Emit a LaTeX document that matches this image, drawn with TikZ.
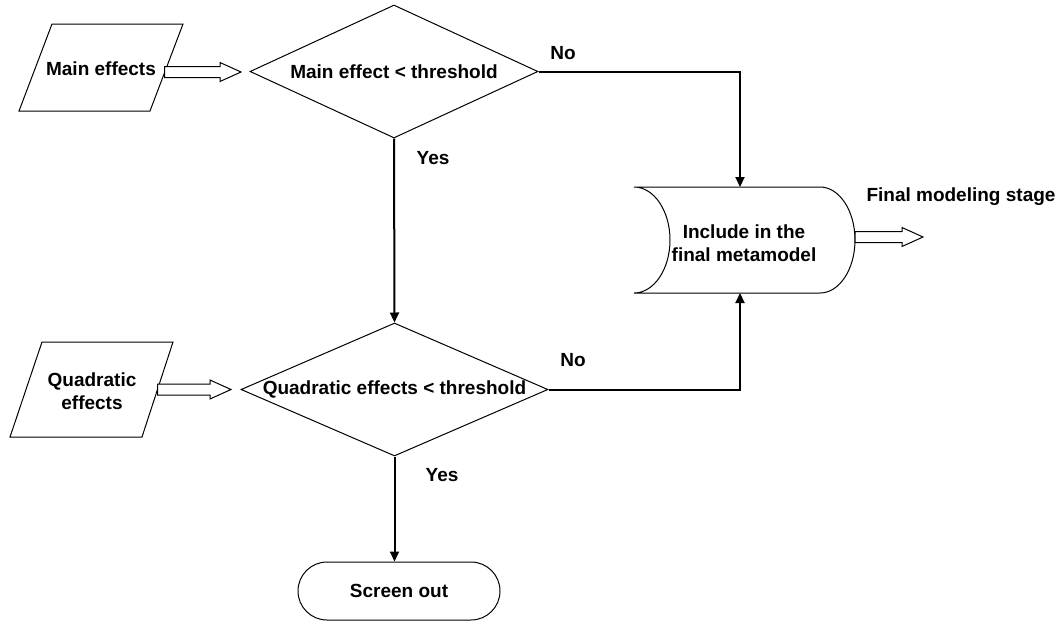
\documentclass[tikz,border=0pt]{standalone}
\usepackage{fontspec}
\setmainfont{Liberation Sans}
\usetikzlibrary{shapes.geometric,arrows.meta,calc}

% Horizontal block arrow drawn as an outlined polygon: #1 tail, #2 tip
\newcommand\blockarrow[2]{%
  \draw[outline] ($(#1)+(0,-5.5)$) -- ($(#2)+(-21,-5.5)$) -- ($(#2)+(-21,-9.5)$)
    -- (#2) -- ($(#2)+(-21,9.5)$) -- ($(#2)+(-21,5.5)$) -- ($(#1)+(0,5.5)$) -- cycle;}

\begin{document}
\begin{tikzpicture}[x=1pt,y=-1pt,
  every node/.style={font=\fontsize{19}{23}\selectfont\bfseries, inner sep=0pt},
  outline/.style={draw=black, line width=1pt, fill=white, line join=miter},
  decision/.style={diamond, aspect=2.3, outline, minimum width=#1, minimum height=133pt},
  flow/.style={line width=2pt, -{Triangle[length=10pt,width=9pt]}},
  terminal/.style={outline, rounded corners=29pt, minimum width=202pt, minimum height=58pt}]

\useasboundingbox (0,0) rectangle (1063,624);

% --- inputs (parallelograms) ---
\draw[outline] (52,24) -- (183,24) -- (150,111) -- (19,111) -- cycle;
\node (main) at (101,69) {Main effects};
\draw[outline] (42,342) -- (173,342) -- (142,437) -- (10,437) -- cycle;
\node[align=center] (quad) at (92,391) {Quadratic\\effects};

% --- decisions ---
\node[decision=288pt] (d1) at (394,71.5) {Main effect < threshold};
\node[decision=307pt] (d2) at (394.5,389.5) {Quadratic effects < threshold};

% --- stored data: include in the metamodel ---
\draw[outline] (634,187) -- (820,187)
  .. controls (839.3,187) and (855,210.7) .. (855,240)
  .. controls (855,269.3) and (839.3,293) .. (820,293)
  -- (634,293)
  .. controls (653.9,293) and (670,269.3) .. (670,240)
  .. controls (670,210.7) and (653.9,187) .. (634,187) -- cycle;
\node[align=center] (inc) at (744,243) {Include in the\\final metamodel};
\coordinate (inctop) at (740,187);
\coordinate (incbot) at (740,293);

% --- terminal ---
\node[terminal] (so) at (399,591) {Screen out};

% --- block arrows ---
\coordinate (a1s) at (164.5,72);  \coordinate (a1e) at (241,72);
\coordinate (a2s) at (157.5,389.5); \coordinate (a2e) at (231,389.5);
\coordinate (a3s) at (855,237);   \coordinate (a3e) at (923,237);
\blockarrow{a1s}{a1e}
\blockarrow{a2s}{a2e}
\blockarrow{a3s}{a3e}
\node (fms) at (961,197) {Final modeling stage};

% --- flow connectors ---
\draw[flow] (d1.south) -- (d2.north);
\draw[flow] (d2.south) -- (d2.south |- so.north);
\draw[flow] (d1.east) -| (inctop);
\draw[flow] (d2.east) -| (incbot);

% --- branch labels ---
\node (no1) at (563,53) {No};
\node (yes1) at (433,158) {Yes};
\node (no2) at (573,360) {No};
\node (yes2) at (442,475) {Yes};
\end{tikzpicture}
\end{document}
